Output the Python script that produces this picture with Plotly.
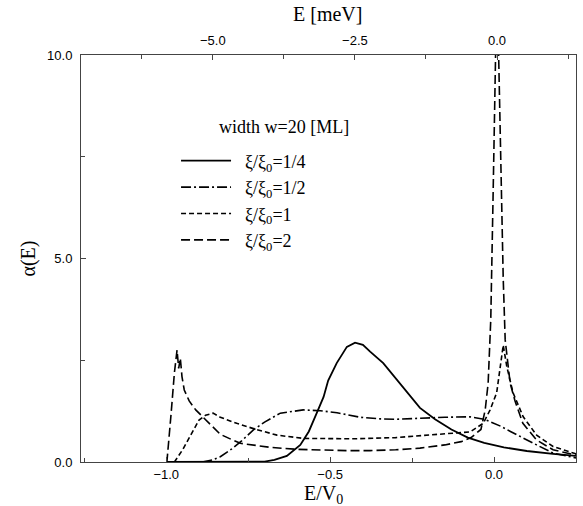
import plotly.graph_objects as go

# ---- data ----
names = ["ξ/ξ<sub>0</sub>=1/4", "ξ/ξ<sub>0</sub>=1/2", "ξ/ξ<sub>0</sub>=1", "ξ/ξ<sub>0</sub>=2"]

x_q = [-1.0, -0.75, -0.70, -0.67, -0.632, -0.591, -0.565, -0.541, -0.52, -0.506, -0.48, -0.449,
       -0.424, -0.40, -0.378, -0.338, -0.287, -0.255, -0.226, -0.18, -0.13, -0.08, -0.03, 0.03,
       0.10, 0.18, 0.25]
y_q = [0, 0, 0.01, 0.05, 0.15, 0.42, 0.75, 1.2, 1.6, 2.0, 2.43, 2.83,
       2.93, 2.88, 2.71, 2.43, 1.94, 1.62, 1.33, 1.05, 0.8, 0.6, 0.47, 0.36,
       0.27, 0.2, 0.15]

x_h = [-1.0, -0.89, -0.86, -0.835, -0.80, -0.77, -0.734, -0.70, -0.652, -0.60, -0.582, -0.53,
       -0.479, -0.409, -0.348, -0.30, -0.226, -0.15, -0.073, -0.03, -0.012, 0.02, 0.05, 0.08,
       0.13, 0.18, 0.25]
y_h = [0, 0, 0.05, 0.13, 0.32, 0.52, 0.79, 0.98, 1.2, 1.27, 1.28, 1.26,
       1.21, 1.10, 1.06, 1.05, 1.08, 1.1, 1.11, 1.05, 0.99, 0.88, 0.75, 0.62,
       0.42, 0.22, 0.1]

x_1 = [-1.0, -0.975, -0.95, -0.93, -0.90, -0.88, -0.857, -0.835, -0.785, -0.73, -0.662, -0.582,
       -0.50, -0.43, -0.30, -0.226, -0.15, -0.073, -0.033, -0.012, 0.008, 0.02, 0.028, 0.039,
       0.058, 0.089, 0.13, 0.18, 0.25]
y_1 = [0, 0, 0.3, 0.6, 1.03, 1.15, 1.2, 1.1, 0.95, 0.81, 0.66, 0.58,
       0.57, 0.57, 0.6, 0.64, 0.68, 0.74, 0.95, 1.28, 1.7, 2.4, 2.87, 2.34,
       1.7, 1.11, 0.66, 0.38, 0.2]

x_2 = [-1.0, -0.998, -0.985, -0.975, -0.967, -0.962, -0.957, -0.952, -0.945, -0.93, -0.91, -0.89,
       -0.876, -0.835, -0.80, -0.774, -0.72, -0.683, -0.6, -0.53, -0.45, -0.378, -0.30, -0.226,
       -0.15, -0.10, -0.07, -0.04, -0.027, -0.018, -0.01, -0.003, 0.004, 0.008, 0.014, 0.021,
       0.028, 0.034, 0.049, 0.064, 0.088, 0.13, 0.18, 0.25]
y_2 = [0, 0, 1.2, 2.2, 2.75, 2.3, 2.55, 2.1, 1.77, 1.5, 1.28, 1.12,
       1.0, 0.68, 0.55, 0.46, 0.40, 0.36, 0.31, 0.29, 0.28, 0.28, 0.30, 0.34,
       0.42, 0.5, 0.6, 0.8, 1.28, 1.94, 3.5, 6.5, 10.0, 11.5, 10.0, 7.0,
       4.5, 3.0, 1.94, 1.5, 0.95, 0.54, 0.3, 0.17]

x_ticks = [-1.0, -0.5, 0.0]
x_minor = [-1.25, -0.75, -0.25, 0.25]
y_ticks = [0.0, 5.0, 10.0]
y_minor = [2.5, 7.5]
top_ticks = [-5.0, -2.5, 0.0]
top_minor = [-6.25, -3.75, -1.25, 1.25]

x_range = [-1.26, 0.25]
top_range = [-7.32, 1.39]
y_range = [0, 10]

# ---- figure ----
SERIF = "Liberation Serif, Times New Roman, serif"
SANS = "Liberation Sans, Arial, sans-serif"

styles = [
    dict(dash="solid", width=1.8),
    dict(dash="10px,3px,2px,3px", width=1.6),
    dict(dash="5px,3px", width=1.6),
    dict(dash="9px,4px", width=1.6),
]
data = [(x_q, y_q), (x_h, y_h), (x_1, y_1), (x_2, y_2)]

fig = go.Figure()
for i, ((xs, ys), nm, st) in enumerate(zip(data, names, styles)):
    fig.add_trace(go.Scatter(x=xs, y=ys, mode="lines", name="\u2002" + nm,
                             legendgroup=f"g{i}",
                             line=dict(color="black", dash=st["dash"], width=st["width"])))

# invisible helper so the top (meV) axis is drawn
fig.add_trace(go.Scatter(x=top_ticks, y=[None] * len(top_ticks), xaxis="x2", yaxis="y",
                         mode="lines", showlegend=False, hoverinfo="skip"))

axis_common = dict(showgrid=False, zeroline=False, showline=True, linecolor="#444",
                   linewidth=1, ticks="inside", ticklen=5, tickcolor="#444", automargin=False,
                   tickfont=dict(family=SANS, size=13, color="black"))

title_font = dict(family=SERIF, size=20, color="black")

fig.update_layout(
    width=583, height=506,
    margin=dict(l=81, r=7, t=55, b=44),
    plot_bgcolor="white", paper_bgcolor="white",
    showlegend=True,
    legend=dict(x=0.192, y=0.785, xanchor="left", yanchor="top",
                font=dict(family=SERIF, size=18, color="black"),
                bgcolor="rgba(0,0,0,0)", itemwidth=50, tracegroupgap=0),
    xaxis=dict(range=x_range, tickvals=x_ticks, tickformat=".1f", mirror=False,
               ticklabelstandoff=0,
               minor=dict(tickvals=x_minor, ticks="inside", ticklen=4, tickcolor="#444"),
               **axis_common),
    xaxis2=dict(range=top_range, overlaying="x", side="top", anchor="y",
                tickvals=top_ticks, tickformat=".1f", ticklabelstandoff=4,
                minor=dict(tickvals=top_minor, ticks="inside", ticklen=4, tickcolor="#444"),
                **axis_common),
    yaxis=dict(range=y_range, tickvals=y_ticks, tickformat=".1f", mirror=True,
               ticklabelstandoff=5,
               minor=dict(tickvals=y_minor, ticks="inside", ticklen=4, tickcolor="#444"),
               **axis_common),
    annotations=[
        dict(text="width w=20 [ML]", xref="paper", yref="paper",
             x=0.2747, y=0.823, xanchor="left", yanchor="middle", showarrow=False,
             font=dict(family=SERIF, size=18, color="black")),
        dict(text="E/V<sub>0</sub>", xref="paper", yref="paper",
             x=0.489, y=-0.079, xanchor="center", yanchor="middle", showarrow=False,
             font=title_font),
        dict(text="E [meV]", xref="paper", yref="paper",
             x=0.497, y=1.1, xanchor="center", yanchor="middle", showarrow=False,
             font=title_font),
        dict(text="α(E)", xref="paper", yref="paper", textangle=-90,
             x=-0.107, y=0.5, xanchor="center", yanchor="middle", showarrow=False,
             font=title_font),
    ],
)

# remove the default 8px page margin so the figure fills the window exactly
fig.write_html("out.html",
               config={"displayModeBar": False},
               post_script="document.body.style.margin='0';document.body.style.padding='0';")
